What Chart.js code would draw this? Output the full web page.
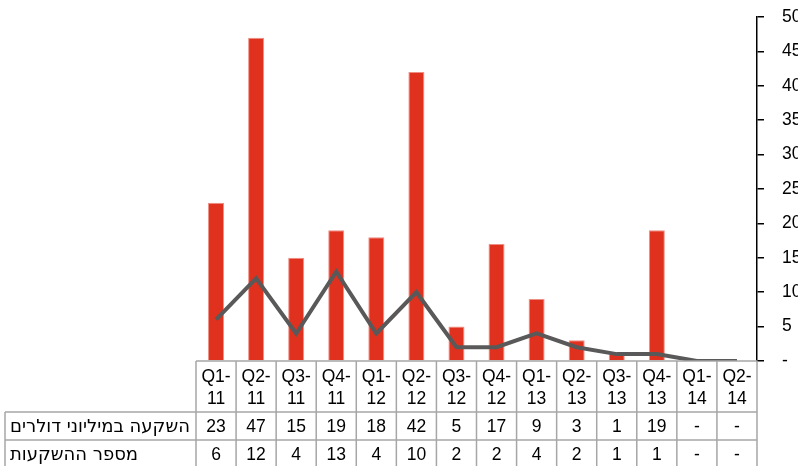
<!DOCTYPE html>
<html>
<head>
<meta charset="utf-8">
<script src="https://cdn.jsdelivr.net/npm/chart.js@4"></script>
<style>
  html, body { margin: 0; padding: 0; background: #fff; }
  #chart { display: block; }
</style>
</head>
<body>
<canvas id="chart" width="798" height="466"></canvas>
<script>
// quarters (two-line header labels)
var quarters = ['Q1-|11', 'Q2-|11', 'Q3-|11', 'Q4-|11', 'Q1-|12', 'Q2-|12', 'Q3-|12',
                'Q4-|12', 'Q1-|13', 'Q2-|13', 'Q3-|13', 'Q4-|13', 'Q1-|14', 'Q2-|14'];
// investment in million dollars
var investment = [23, 47, 15, 19, 18, 42, 5, 17, 9, 3, 1, 19, 0, 0];
// number of investments
var deals = [6, 12, 4, 13, 4, 10, 2, 2, 4, 2, 1, 1, 0, 0];
var rowLabels = ['השקעה במיליוני דולרים', 'מספר ההשקעות'];
var yTicks = [0, 5, 10, 15, 20, 25, 30, 35, 40, 45, 50];

var FONT = '"Liberation Sans", "DejaVu Sans", sans-serif';
var HEB_FONT = '"DejaVu Sans", sans-serif';
var GRID = '#a6a6a6';

// draws the data table under the plot
var tablePlugin = {
    id: 'dataTable',
    afterDraw: function (chart) {
        var ctx = chart.ctx;
        var x = chart.scales.x;
        var area = chart.chartArea;
        var n = quarters.length;
        var w = (area.right - area.left) / n;
        var top = area.bottom;
        var rowY = [top, 412, 440, 470];

        ctx.save();
        ctx.strokeStyle = GRID;
        ctx.lineWidth = 1.5;

        // horizontal lines
        ctx.beginPath();
        ctx.moveTo(area.left, rowY[0]);
        ctx.lineTo(area.right, rowY[0]);
        for (var r = 1; r < rowY.length; r++) {
            ctx.moveTo(5, rowY[r]);
            ctx.lineTo(area.right, rowY[r]);
        }
        // vertical lines
        for (var i = 0; i <= n; i++) {
            var xx = area.left + i * w;
            ctx.moveTo(xx, rowY[0]);
            ctx.lineTo(xx, rowY[3]);
        }
        ctx.moveTo(5, rowY[1]);
        ctx.lineTo(5, rowY[3]);
        ctx.stroke();

        ctx.fillStyle = '#000';
        ctx.font = '17.5px ' + FONT;
        ctx.textAlign = 'center';
        ctx.textBaseline = 'middle';
        for (var j = 0; j < n; j++) {
            var cx = x.getPixelForValue(j);
            var parts = quarters[j].split('|');
            ctx.fillText(parts[0], cx, 377);
            ctx.fillText(parts[1], cx, 399);
            ctx.fillText(investment[j] === 0 ? '-' : investment[j], cx, 427);
            ctx.fillText(deals[j] === 0 ? '-' : deals[j], cx, 455);
        }

        ctx.textAlign = 'left';
        ctx.font = '18px ' + HEB_FONT;
        ctx.fillText(rowLabels[0], 10, 427);
        ctx.fillText(rowLabels[1], 10, 455);
        ctx.restore();
    }
};

new Chart(document.getElementById('chart').getContext('2d'), {
    type: 'bar',
    data: {
        labels: quarters,
        datasets: [{
            type: 'line',
            data: deals,
            borderColor: '#595959',
            borderWidth: 4,
            pointRadius: 0,
            tension: 0,
            order: 0
        }, {
            type: 'bar',
            data: investment,
            backgroundColor: '#e0311f',
            borderColor: '#ee8f84',
            borderWidth: 1,
            categoryPercentage: 1,
            barPercentage: 0.4,
            order: 1
        }]
    },
    options: {
        responsive: false,
        animation: false,
        layout: { padding: { left: 196, bottom: 105, top: 17 } },
        plugins: { legend: { display: false }, tooltip: { enabled: false } },
        scales: {
            x: { display: false },
            y: {
                position: 'right',
                min: 0,
                max: 50,
                afterBuildTicks: function (axis) {
                    axis.ticks = yTicks.map(function (v) { return { value: v }; });
                },
                afterFit: function (axis) {
                    axis.width = 41;
                    axis.paddingTop = 0;
                    axis.paddingBottom = 0;
                },
                border: { display: true, color: '#000', width: 1.5 },
                grid: { drawOnChartArea: false, drawTicks: true, tickLength: 7, color: '#000', lineWidth: 1.5 },
                ticks: {
                    padding: 18,
                    color: '#000',
                    font: { family: FONT, size: 17.5 },
                    callback: function (v) { return v === 0 ? '-' : v; }
                }
            }
        }
    },
    plugins: [tablePlugin]
});
</script>
</body>
</html>
